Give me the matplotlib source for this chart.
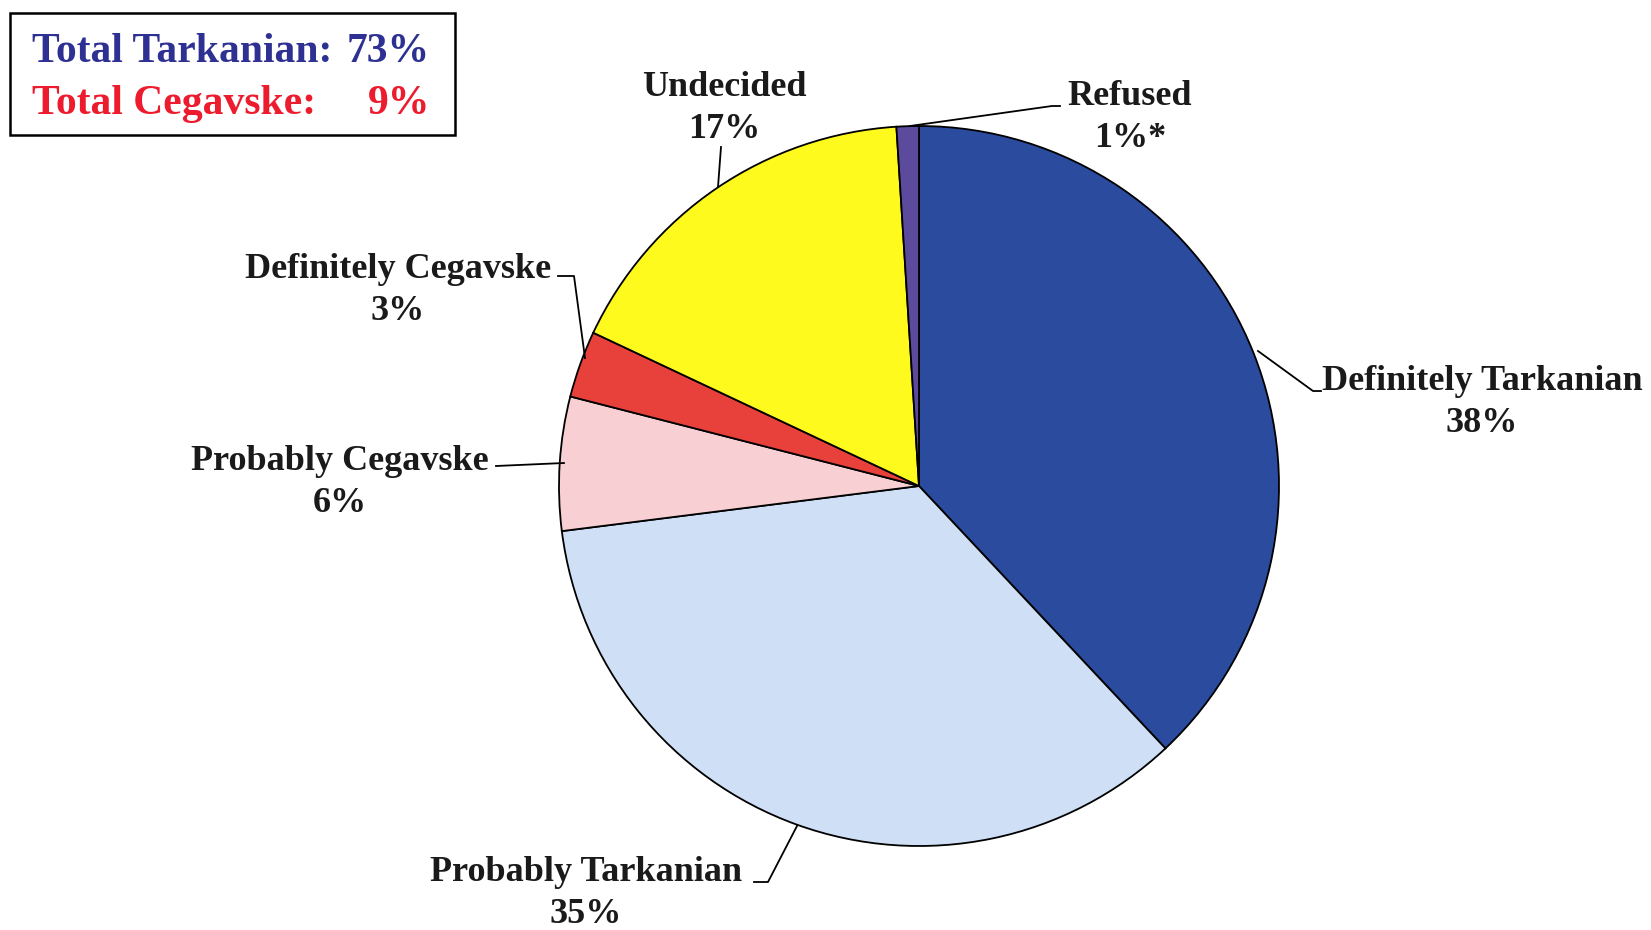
import matplotlib
matplotlib.use("Agg")
import matplotlib.pyplot as plt

# slice data, clockwise from 12 o'clock
labels = ["Definitely Tarkanian", "Probably Tarkanian", "Probably Cegavske",
          "Definitely Cegavske", "Undecided", "Refused"]
pct = [38, 35, 6, 3, 17, 1]
pct_text = ["38%", "35%", "6%", "3%", "17%", "1%*"]
colors = ["#2B4B9E", "#CFE0F6", "#F8D0D3", "#E8403A", "#FFFA1E", "#5C4A9C"]

total_labels = ["Total Tarkanian:", "Total Cegavske:"]
total_values = ["73%", "9%"]
total_colors = ["#2E3192", "#EC1C2E"]

W, H = 1651, 930
plt.rcParams["font.family"] = ["Liberation Serif", "DejaVu Serif"]

fig = plt.figure(figsize=(W / 100, H / 100), dpi=100)
ax = fig.add_axes([0, 0, 1, 1])

cx, cy, r = 919, H - 486, 360
ax.pie(pct, colors=colors, startangle=90, counterclock=False,
       center=(cx, cy), radius=r,
       wedgeprops=dict(edgecolor="black", linewidth=1.3))
ax.set_xlim(0, W)
ax.set_ylim(0, H)
ax.set_aspect("equal")
ax.axis("off")

def Y(y):
    return H - y

# label text positions (pixel coords from the top) and leader lines
lab_pos = {
    "Definitely Tarkanian": (1482, 382),
    "Probably Tarkanian": (586, 872),
    "Probably Cegavske": (340, 461),
    "Definitely Cegavske": (398, 269),
    "Undecided": (724, 88),
    "Refused": (1130, 97),
}
leaders = {
    "Definitely Tarkanian": [(1258, 351), (1313, 391), (1321, 391)],
    "Probably Tarkanian": [(797, 826), (768, 882), (754, 882)],
    "Probably Cegavske": [(496, 466), (564, 463)],
    "Definitely Cegavske": [(558, 276), (574, 276), (585, 358)],
    "Undecided": [(721, 147), (718, 187)],
    "Refused": [(910, 126), (1052, 106), (1060, 106)],
}

for name, p in zip(labels, pct_text):
    x, y = lab_pos[name]
    ax.text(x, Y(y), name, ha="center", va="center", fontsize=26,
            fontweight="bold", color="#1a1a1a")
    ax.text(x, Y(y + 42), p, ha="center", va="center", fontsize=26,
            fontweight="bold", color="#1a1a1a")
    pts = leaders[name]
    ax.plot([q[0] for q in pts], [Y(q[1]) for q in pts], color="black", lw=1.3)

# totals box
ax.add_patch(plt.Rectangle((10, Y(135)), 445, 122, fill=False,
                           edgecolor="black", lw=1.8))
for i, (t, v, c) in enumerate(zip(total_labels, total_values, total_colors)):
    yy = Y(52 + i * 52)
    ax.text(32, yy, t, ha="left", va="center", fontsize=30,
            fontweight="bold", color=c)
    ax.text(430, yy, v, ha="right", va="center", fontsize=30,
            fontweight="bold", color=c)

fig.savefig("out.png", dpi=100)
